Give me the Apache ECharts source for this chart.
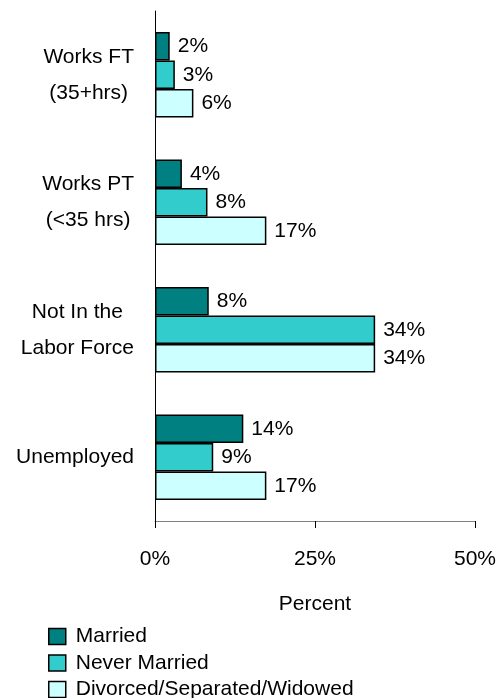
<!DOCTYPE html>
<html>
<head>
<meta charset="utf-8">
<script src="https://cdn.jsdelivr.net/npm/echarts@6/dist/echarts.min.js"></script>
<style>html,body{margin:0;padding:0;background:#fff}#c{width:503px;height:698px}</style>
</head>
<body>
<div id="c"></div>
<script>
const categories = ['Works FT\n(35+hrs)', 'Works PT\n(<35 hrs)', 'Not In the\nLabor Force', 'Unemployed'];
const seriesNames = ['Married', 'Never Married', 'Divorced/Separated/Widowed'];
const married = [2.3, 4.2, 8.4, 13.8];
const neverMarried = [3.1, 8.2, 34.4, 9.1];
const divorced = [6.0, 17.4, 34.4, 17.4];
const colors = ['#008080', '#33CCCC', '#CCFFFF'];
const xTicks = [0, 25, 50];

const FONT = "'Liberation Sans', Arial, sans-serif";
const FS = 21;
const chart = echarts.init(document.getElementById('c'), null, {renderer: 'canvas'});
const data = [married, neverMarried, divorced];
chart.setOption({
  animation: false,
  textStyle: {fontFamily: FONT, color: '#000'},
  grid: {left: 155, right: 28, top: 11, bottom: 177, containLabel: false},
  legend: {
    orient: 'vertical', left: 48, top: 626, height: 90, itemGap: 5.5, padding: 0,
    itemWidth: 17, itemHeight: 16, icon: 'rect',
    textStyle: {fontFamily: FONT, fontSize: FS, color: '#000', lineHeight: 21, padding: [0,0,0,5]},
    data: seriesNames.map((n, i) => ({name: n, itemStyle: {color: colors[i], borderColor: '#000', borderWidth: 1.5}}))
  },
  xAxis: {
    type: 'value', min: xTicks[0], max: xTicks[xTicks.length - 1], interval: xTicks[1] - xTicks[0],
    name: 'Percent', nameLocation: 'middle', nameGap: 73,
    nameTextStyle: {fontFamily: FONT, fontSize: FS, color: '#000'},
    axisLine: {show: true, lineStyle: {color: '#808080', width: 1}},
    axisTick: {show: true, length: 7, lineStyle: {color: '#000', width: 1}},
    splitLine: {show: false},
    axisLabel: {fontFamily: FONT, fontSize: FS, color: '#000', margin: 28, formatter: v => v + '%'}
  },
  yAxis: {
    type: 'category', inverse: true, data: categories,
    axisLine: {show: true, lineStyle: {color: '#000', width: 1}},
    axisTick: {show: false},
    axisLabel: {
      align: 'right', margin: 21,
      formatter: v => v.split('\n').map(l => '{c|' + l + '}').join('\n'),
      rich: {c: {align: 'center', fontFamily: FONT, fontSize: FS, lineHeight: 36, color: '#000'}}
    }
  },
  series: seriesNames.map((n, i) => ({
    name: n, type: 'bar', data: data[i],
    barGap: '0%', barCategoryGap: '33%',
    itemStyle: {color: colors[i], borderColor: '#000', borderWidth: 1.5},
    label: {show: true, position: 'right', distance: 8, fontFamily: FONT, fontSize: FS, color: '#000',
      formatter: p => Math.round(p.value) + '%'}
  }))
});
</script>
</body>
</html>
